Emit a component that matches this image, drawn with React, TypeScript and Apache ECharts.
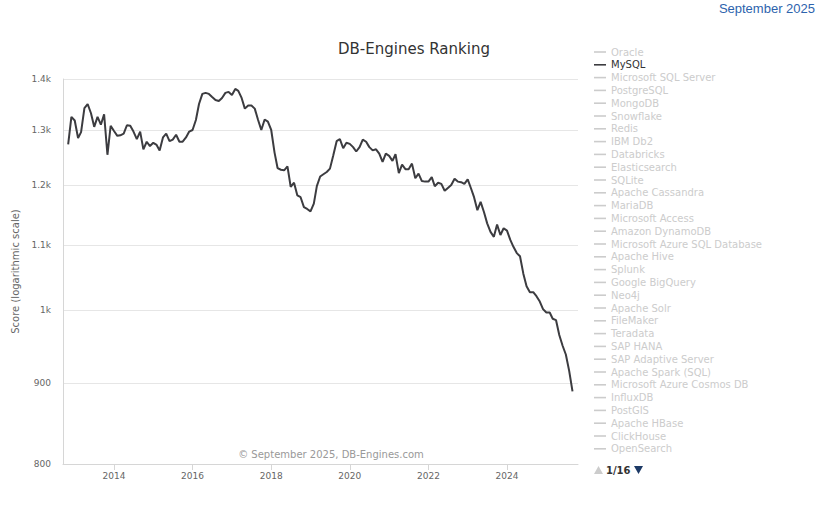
import React, { useEffect, useRef } from 'react';
import * as echarts from 'echarts';

// MySQL monthly score, Nov 2012 .. Sep 2025
const score2012 = [1273, 1325];
const score2013 = [1318, 1285, 1296, 1342, 1350, 1332, 1306, 1325, 1310, 1330, 1254, 1308];
const score2014 = [1298, 1289, 1290, 1293, 1309, 1308, 1297, 1283, 1297, 1264, 1278, 1270];
const score2015 = [1276, 1272, 1262, 1286, 1293, 1279, 1282, 1291, 1278, 1278, 1286, 1297];
const score2016 = [1300, 1319, 1350, 1370, 1372, 1370, 1364, 1358, 1356, 1362, 1372, 1374];
const score2017 = [1368, 1380, 1376, 1362, 1341, 1347, 1347, 1341, 1319, 1300, 1320, 1316];
const score2018 = [1300, 1258, 1230, 1227, 1226, 1233, 1197, 1204, 1182, 1179, 1162, 1159];
const score2019 = [1155, 1168, 1198, 1215, 1219, 1223, 1229, 1253, 1279, 1283, 1266, 1276];
const score2020 = [1274, 1268, 1260, 1268, 1282, 1278, 1268, 1262, 1264, 1256, 1241, 1256];
const score2021 = [1252, 1243, 1255, 1221, 1236, 1228, 1228, 1238, 1212, 1220, 1207, 1206];
const score2022 = [1206, 1214, 1198, 1204, 1202, 1190, 1195, 1200, 1211, 1206, 1205, 1202];
const score2023 = [1210, 1194, 1179, 1157, 1171, 1154, 1135, 1121, 1113, 1133, 1116, 1127];
const score2024 = [1123, 1108, 1097, 1087, 1082, 1055, 1036, 1027, 1027, 1021, 1013, 1002];
const score2025 = [997, 997, 988, 986, 965, 950, 938, 916, 889];

const yearBlocks: [number, number, number[]][] = [
  [2012, 10, score2012],
  [2013, 0, score2013],
  [2014, 0, score2014],
  [2015, 0, score2015],
  [2016, 0, score2016],
  [2017, 0, score2017],
  [2018, 0, score2018],
  [2019, 0, score2019],
  [2020, 0, score2020],
  [2021, 0, score2021],
  [2022, 0, score2022],
  [2023, 0, score2023],
  [2024, 0, score2024],
  [2025, 0, score2025],
];

const yTickValues = [800, 900, 1000, 1100, 1200, 1300, 1400];
const xTickYears = [2014, 2016, 2018, 2020, 2022, 2024];

const legendNames = [
  'Oracle', 'MySQL', 'Microsoft SQL Server', 'PostgreSQL', 'MongoDB', 'Snowflake', 'Redis',
  'IBM Db2', 'Databricks', 'Elasticsearch', 'SQLite', 'Apache Cassandra', 'MariaDB',
  'Microsoft Access', 'Amazon DynamoDB', 'Microsoft Azure SQL Database', 'Apache Hive', 'Splunk',
  'Google BigQuery', 'Neo4j', 'Apache Solr', 'FileMaker', 'Teradata', 'SAP HANA',
  'SAP Adaptive Server', 'Apache Spark (SQL)', 'Microsoft Azure Cosmos DB', 'InfluxDB', 'PostGIS',
  'Apache HBase', 'ClickHouse', 'OpenSearch',
];
const activeName = 'MySQL';

const FONT = 'DejaVu Sans';

export default function App() {
  const ref = useRef<HTMLDivElement>(null);
  useEffect(() => {
    document.body.style.margin = '0';
    const chart = echarts.init(ref.current!, null, { renderer: 'svg' });

    const data: [number, number][] = [];
    yearBlocks.forEach(([y, m0, vals]) => {
      vals.forEach((v, i) => {
        data.push([Date.UTC(y, m0 + i, 1), Math.log10(v)]);
      });
    });

    const selected: Record<string, boolean> = {};
    legendNames.forEach((n) => (selected[n] = n === activeName));

    const series: any[] = legendNames.map((n) =>
      n === activeName
        ? {
            type: 'line',
            name: n,
            data,
            symbol: 'none',
            showSymbol: false,
            color: '#3c3c40',
            lineStyle: { color: '#3c3c40', width: 2 },
            z: 3,
          }
        : { type: 'line', name: n, data: [], symbol: 'none', color: '#cccccc' }
    );

    const xTicks = xTickYears.map((y) => Date.UTC(y, 0, 1));

    chart.setOption({
      animation: false,
      textStyle: { fontFamily: FONT },
      title: {
        text: 'DB-Engines Ranking',
        left: 338,
        top: 41,
        padding: 0,
        textStyle: { fontFamily: FONT, fontSize: 15, fontWeight: 'normal', color: '#333333' },
      },
      grid: { left: 63, right: 242, top: 79, bottom: 50, containLabel: false },
      legend: {
        orient: 'vertical',
        left: 594,
        top: 45.6,
        padding: 0,
        itemGap: 0,
        itemWidth: 12,
        itemHeight: 1.6,
        icon: 'rect',
        data: legendNames,
        selected,
        inactiveColor: '#cccccc',
        textStyle: { fontFamily: FONT, fontSize: 10, color: '#333333', lineHeight: 12.8 },
      },
      xAxis: {
        type: 'value',
        min: Date.UTC(2012, 8, 14),
        max: Date.UTC(2025, 9, 22),
        axisLine: { show: true, lineStyle: { color: '#d6d6d6', width: 1 } },
        axisTick: {
          show: true,
          length: 6,
          lineStyle: { color: '#d6d6d6' },
          customValues: xTicks,
        },
        axisLabel: {
          customValues: xTicks,
          formatter: (v: number) => String(new Date(v).getUTCFullYear()),
          color: '#666666',
          fontFamily: FONT,
          fontSize: 9,
          margin: 7,
        },
        splitLine: { show: false },
      },
      yAxis: {
        type: 'value',
        min: Math.log10(800),
        max: Math.log10(1400),
        name: 'Score (logarithmic scale)',
        nameLocation: 'middle',
        nameRotate: 90,
        nameGap: 41,
        nameTextStyle: { color: '#666666', fontFamily: FONT, fontSize: 10 },
        axisLine: { show: true, lineStyle: { color: '#d6d6d6', width: 1 } },
        axisTick: { show: false, customValues: yTickValues.map((v) => Math.log10(v)) },
        axisLabel: {
          customValues: yTickValues.map((v) => Math.log10(v)),
          showMinLabel: true,
          showMaxLabel: true,
          formatter: (v: number) => {
            const r = Math.round(Math.pow(10, v));
            return r >= 1000 ? `${r / 1000}k` : String(r);
          },
          color: '#666666',
          fontFamily: FONT,
          fontSize: 9,
          margin: 12,
        },
        splitLine: { show: true, lineStyle: { color: '#e6e6e6', width: 1 } },
      },
      graphic: [
        {
          type: 'text',
          right: 5,
          top: 2,
          style: {
            text: 'September 2025',
            fill: '#2d63ad',
            font: '13px "Liberation Sans", Arial, sans-serif',
          },
        },
        {
          type: 'text',
          x: 331,
          y: 454,
          style: {
            text: '\u00a9 September 2025, DB-Engines.com',
            fill: '#999999',
            font: `10px "${FONT}"`,
            textAlign: 'center',
            textVerticalAlign: 'middle',
          },
        },
        {
          type: 'polygon',
          shape: { points: [[594, 474], [603, 474], [598.5, 466]] },
          style: { fill: '#cccccc' },
        },
        {
          type: 'text',
          x: 606,
          y: 470,
          style: {
            text: '1/16',
            fill: '#333333',
            font: `bold 10px "${FONT}"`,
            textVerticalAlign: 'middle',
          },
        },
        {
          type: 'polygon',
          shape: { points: [[634, 466], [643, 466], [638.5, 474]] },
          style: { fill: '#1d3a66' },
        },
      ],
      series,
    });

    return () => chart.dispose();
  }, []);
  return <div ref={ref} style={{ width: 820, height: 514 }} />;
}
